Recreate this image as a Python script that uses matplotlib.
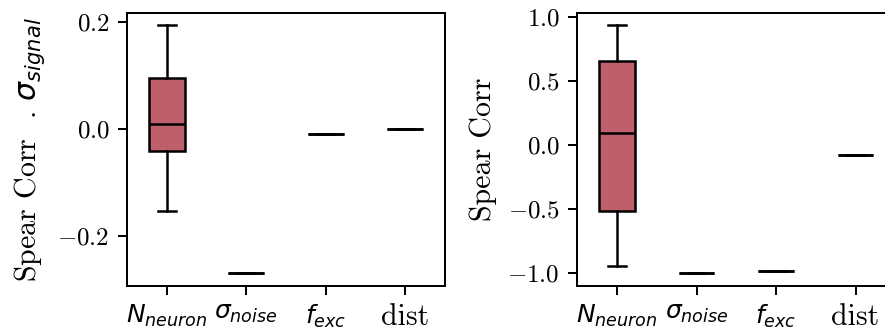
import matplotlib
matplotlib.use("Agg")
import matplotlib.pyplot as plt
from matplotlib.ticker import FuncFormatter

# Plot settings: computer-modern look for text, DejaVu math for the labels
plt.rcParams['font.family'] = 'cmr10'
plt.rcParams['mathtext.fontset'] = 'cm'

# Data
params = [r'$N_{neuron}$', r'$\sigma_{noise}$', r'$f_{exc}$', 'dist']

# left panel: correlation with sigma_signal
left_med = [0.011, -0.269, -0.009, 0.0]
left_q1 = [-0.041, -0.269, -0.009, 0.0]
left_q3 = [0.097, -0.269, -0.009, 0.0]
left_lo = [-0.153, -0.269, -0.009, 0.0]
left_hi = [0.195, -0.269, -0.009, 0.0]

# right panel: spearman correlation
right_med = [0.094, -1.0, -0.985, -0.073]
right_q1 = [-0.516, -1.0, -0.985, -0.073]
right_q3 = [0.659, -1.0, -0.985, -0.073]
right_lo = [-0.945, -1.0, -0.985, -0.073]
right_hi = [0.9375, -1.0, -0.985, -0.073]

box_color = '#BF5F6B'
text_size = 12  # cmr10 text runs small next to the math digits


def make_stats(med, q1, q3, lo, hi):
    stats = []
    for i in range(len(med)):
        stats.append({'med': med[i], 'q1': q1[i], 'q3': q3[i],
                      'whislo': lo[i], 'whishi': hi[i], 'fliers': []})
    return stats


def draw_panel(ax, stats, ylabel, yticks):
    ax.bxp(stats, positions=range(len(stats)), widths=0.45, patch_artist=True,
           boxprops=dict(facecolor=box_color, edgecolor='black'),
           medianprops=dict(color='black'),
           whiskerprops=dict(color='black'),
           capprops=dict(color='black'))
    ax.set_xlim(-0.5, len(stats) - 0.5)
    ax.set_xticks(range(len(stats)))
    labels = ax.set_xticklabels(params, math_fontfamily='dejavusans')
    labels[-1].set_fontsize(text_size)
    ax.set_yticks(yticks)
    ax.yaxis.set_major_formatter(FuncFormatter(lambda v, p: r'$%.1f$' % v))
    ax.set_ylabel(ylabel, math_fontfamily='dejavusans', fontsize=text_size)


fig = plt.figure(figsize=(885 / 180, 329 / 180), dpi=180)
ax1 = fig.add_axes([0.1435, 0.1316, 0.3593, 0.8298])
ax2 = fig.add_axes([0.6523, 0.1316, 0.3593, 0.8298])

draw_panel(ax1, make_stats(left_med, left_q1, left_q3, left_lo, left_hi),
           r'Spear Corr  . $\sigma_{signal}$', [-0.2, 0.0, 0.2])
draw_panel(ax2, make_stats(right_med, right_q1, right_q3, right_lo, right_hi),
           'Spear Corr', [-1.0, -0.5, 0.0, 0.5, 1.0])

fig.savefig('out.png', dpi=180)
